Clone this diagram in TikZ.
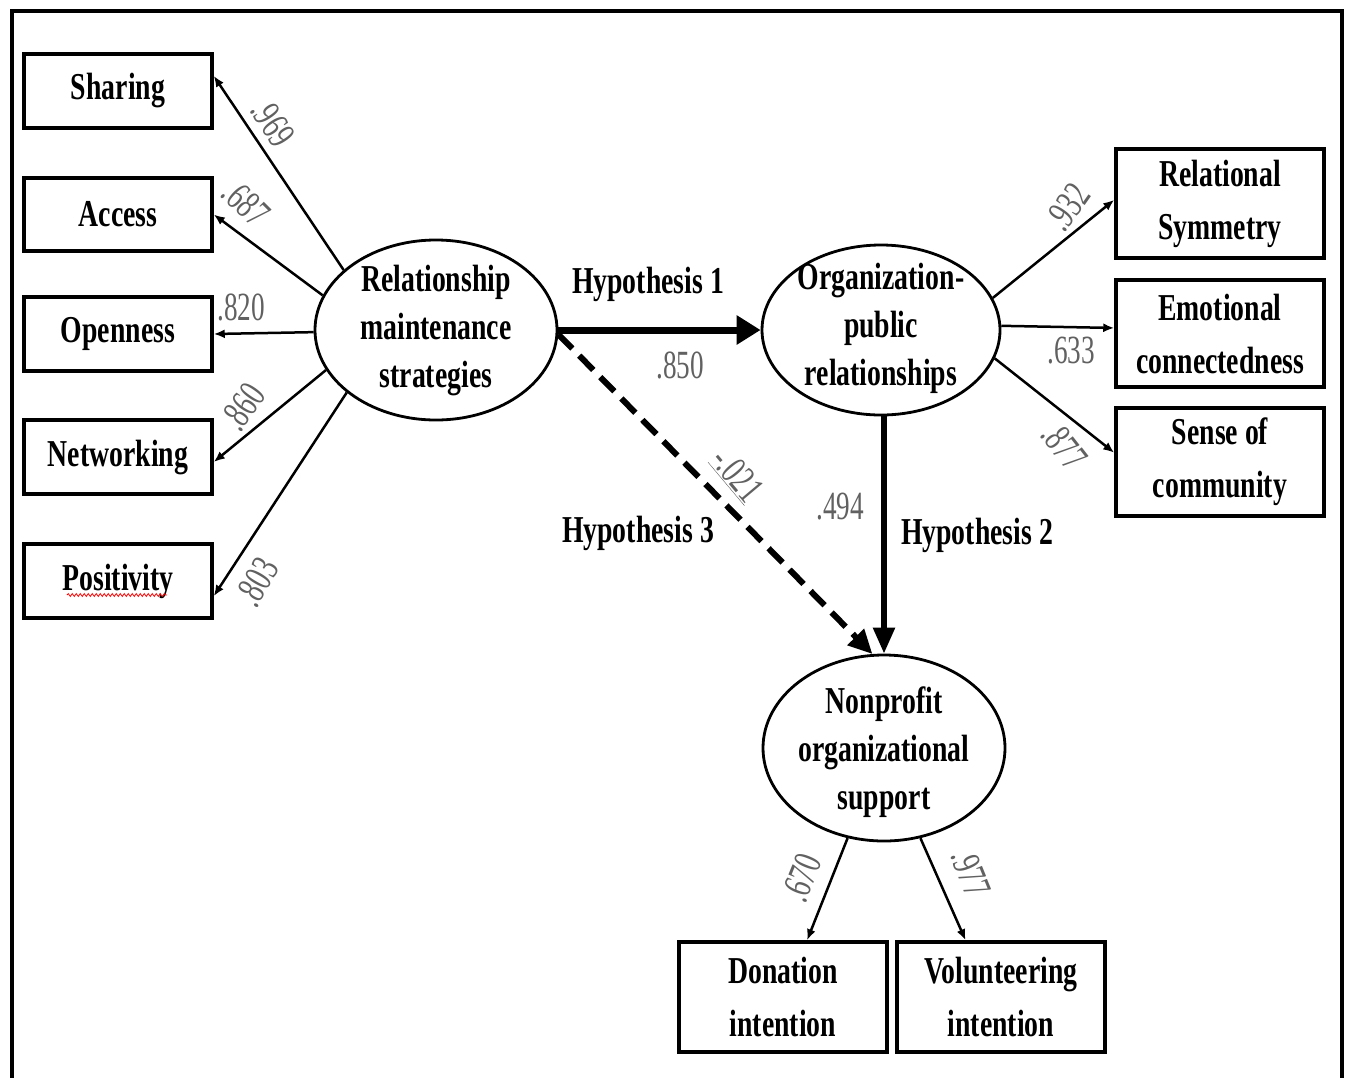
\documentclass[tikz,border=0pt]{standalone}
\usepackage{fontspec}
\usetikzlibrary{shapes.geometric,arrows.meta,calc,decorations.pathmorphing}
\newfontfamily\lblfont[FakeStretch=0.73]{Liberation Serif}
\newfontfamily\numfont[FakeStretch=0.68]{Liberation Serif}
\begin{document}
\begin{tikzpicture}[x=1pt,y=-1pt,
  box/.style={draw,line width=3.5pt,inner sep=0pt,align=center,
    font=\lblfont\bfseries\fontsize{38}{53}\selectfont},
  lbox/.style={box,minimum width=188pt,minimum height=74pt},
  rbox/.style={box,minimum width=208pt},
  ell/.style={draw,ellipse,line width=2.8pt,inner sep=0pt},
  etext/.style={inner sep=0pt,align=center,font=\lblfont\bfseries\fontsize{38}{48}\selectfont},
  hyp/.style={inner sep=0pt,font=\lblfont\bfseries\fontsize{38}{38}\selectfont},
  lbl/.style={inner sep=0pt,text=black!62,font=\numfont\fontsize{40}{40}\selectfont},
  con/.style={line width=2.5pt,-{Latex[length=11pt,width=9pt]}}]
\useasboundingbox (0,0) rectangle (1346,1077);
\fill[white] (0,0) rectangle (1346,1077);
% frame
\draw[line width=4pt] (12,1080) -- (12,11) -- (1342,11) -- (1342,1080);

% left indicator boxes
\node[lbox] (sharing) at (118,91) {Sharing};
\node[lbox,minimum height=73pt] (access) at (118,214.5) {Access};
\node[lbox] (openness) at (118,334) {Openness};
\node[lbox] (networking) at (118,457) {Networking};
\node[lbox] (positivity) at (118,581) {Positivity};
\draw[red,line width=0.8pt,decorate,decoration={snake,amplitude=1.4pt,segment length=4pt}]
  ($(positivity.center)+(-51,14)$) -- ($(positivity.center)+(49,14)$);

% right indicator boxes
\node[rbox,minimum height=109pt] (rs) at (1220,203.5) {Relational\\Symmetry};
\node[rbox,minimum height=107pt] (ec) at (1220,333.5) {Emotional\\connectedness};
\node[rbox,minimum height=108pt] (sc) at (1220,462) {Sense of\\community};

% bottom boxes
\node[box,minimum width=208pt,minimum height=110pt] (don) at (783,997) {Donation\\intention};
\node[box,minimum width=208pt,minimum height=110pt] (vol) at (1001,997) {Volunteering\\intention};

% latent ellipses
\node[ell,minimum width=242pt,minimum height=180pt] (rms) at (436,330) {};
\node[etext] at (436,331) {Relationship\\maintenance\\strategies};
\node[ell,minimum width=238pt,minimum height=170pt] (opr) at (881,330) {};
\node[etext] at (881,328) {Organization-\\public\\relationships};
\node[ell,minimum width=242pt,minimum height=186pt] (nos) at (884,748) {};
\node[etext] at (884,752) {Nonprofit\\organizational\\support};

% loadings left
\draw[con] (rms.147) -- (sharing.9.7);
\draw[con] (rms.163) -- (access.east);
\draw[con] (rms.181) -- (openness.east);
\draw[con] (rms.200) -- (networking.-3);
\draw[con] (rms.215.6) -- (positivity.-9);

% loadings right
\draw[con] (opr.16.7) -- (rs.178);
\draw[con] (opr.2) -- (ec.177);
\draw[con] (opr.-14) -- (sc.175);

% loadings bottom
\draw[con] (nos.248.6) -- (don.67);
\draw[con] (nos.-68.6) -- (vol.122.5);

% structural paths
\draw[line width=7pt,-{Triangle[length=24pt,width=28pt]}] (rms.east) -- (opr.west);
\draw[line width=5.5pt,-{Triangle[length=26pt,width=21pt]}] (opr.south -| nos.north) -- (nos.north);
\draw[line width=6pt,dash pattern=on 20pt off 10pt,-{Triangle[length=24pt,width=22pt]}] (rms.-2) -- (nos.97);

% coefficient labels
\node[lbl,rotate=-57] at (273,123) {.969};
\node[lbl,rotate=-45] at (246,203) {.687};
\node[lbl] at (241,307) {.820};
\node[lbl,rotate=55] at (243,407) {.860};
\node[lbl,rotate=60] at (257,582) {.803};
\node[lbl] at (680,365) {.850};
\node[lbl,rotate=-50] at (737,475) {\underline{-.021}};
\node[lbl] at (840,507) {.494};
\node[lbl,rotate=55] at (1068,207) {.932};
\node[lbl] at (1071,351) {.633};
\node[lbl,rotate=-52] at (1064,446) {.877};
\node[lbl,rotate=68] at (802,878) {.670};
\node[lbl,rotate=-68] at (971,873) {.977};

% hypothesis labels
\node[hyp] at (648,284) {Hypothesis 1};
\node[hyp] at (638,533) {Hypothesis 3};
\node[hyp] at (977,535) {Hypothesis 2};
\end{tikzpicture}
\end{document}
